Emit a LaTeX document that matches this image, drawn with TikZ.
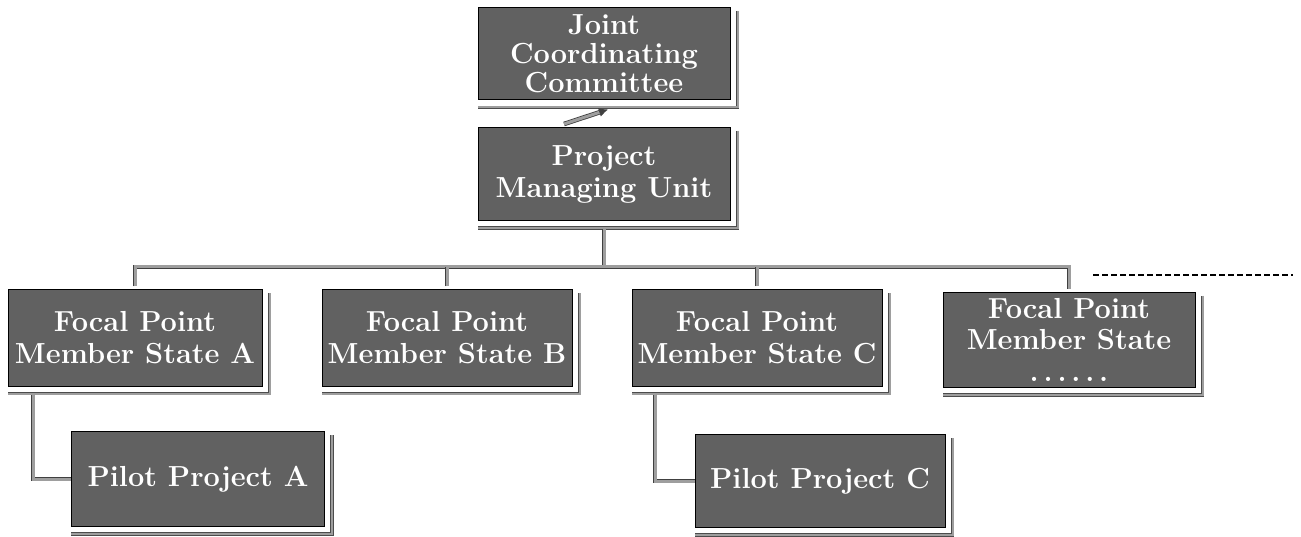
\documentclass[tikz,border=0pt]{standalone}
\usetikzlibrary{arrows.meta}
\definecolor{boxgray}{gray}{0.38}
\definecolor{bargray}{gray}{0.62}
\tikzset{
  panel/.style={draw=black, line width=1pt, fill=boxgray, text=white, align=center,
    inner sep=0pt, font=\fontsize{29}{32}\selectfont\bfseries},
  shade line/.style={draw=black!70, line width=0.7pt, double=bargray, double distance=2pt},
  bar/.style={draw=black!75, line width=0.8pt, double=bargray, double distance=3pt},
}
\begin{document}
\begin{tikzpicture}[x=1pt,y=-1pt]
	\useasboundingbox (0,0) rectangle (1301,537);

	\node[panel, minimum width=252pt, minimum height=92pt, font=\fontsize{29}{29}\selectfont\bfseries] (jcc) at (604,54) {Joint\\Coordinating\\Committee};
	\node[panel, minimum width=252pt, minimum height=93pt] (pmu) at (604,174) {Project\\Managing Unit};

	\node[panel, minimum width=254pt, minimum height=96pt] (fpa) at (135,338) {Focal Point\\Member State A};
	\node[panel, minimum width=250pt, minimum height=96pt] (fpb) at (447,338) {Focal Point\\Member State B};
	\node[panel, minimum width=250pt, minimum height=96pt] (fpc) at (757,338) {Focal Point\\Member State C};
	\node[panel, minimum width=252pt, minimum height=95pt, font=\fontsize{29}{31}\selectfont\bfseries] (fpd) at (1069,340) {Focal Point\\Member State\\[1pt].\,.\,.\,.\,.\,.};

	\node[panel, minimum width=253pt, minimum height=95pt] (ppa) at (198,479) {Pilot Project A};
	\node[panel, minimum width=250pt, minimum height=93pt] (ppc) at (820,481) {Pilot Project C};

	% offset frame lines at the right and bottom of each box
	\foreach \n in {jcc,pmu,fpa,fpb,fpc,fpd,ppa,ppc}
		\draw[shade line] ([xshift=7pt,yshift=-4pt]\n.north east) |- ([yshift=-7pt]\n.south west);

	% tree
	\coordinate (bus) at (604,267);
	\draw[bar] ([yshift=-8pt]pmu.south) -- (bus);
	\draw[bar] ([yshift=3pt]fpa.north) |- (bus) -| ([yshift=3pt]fpd.north);
	\draw[bar] ([yshift=3pt]fpb.north) -- (fpb.north |- bus);
	\draw[bar] ([yshift=3pt]fpc.north) -- (fpc.north |- bus);
	\coordinate (more) at (1293,275);
	\draw[line width=1.2pt, dash pattern=on 6pt off 3pt] ([xshift=24pt]fpd.north |- more) -- (more);

	\draw[bar] ([xshift=-102pt,yshift=-8pt]fpa.south) |- (ppa.west);
	\draw[bar] ([xshift=-102pt,yshift=-8pt]fpc.south) |- (ppc.west);

	% link between managing unit and committee
	\draw[bar, -{Latex[length=9pt,width=9pt]}] ([xshift=-40pt,yshift=3pt]pmu.north) -- ([xshift=4pt,yshift=-9pt]jcc.south);
\end{tikzpicture}
\end{document}
